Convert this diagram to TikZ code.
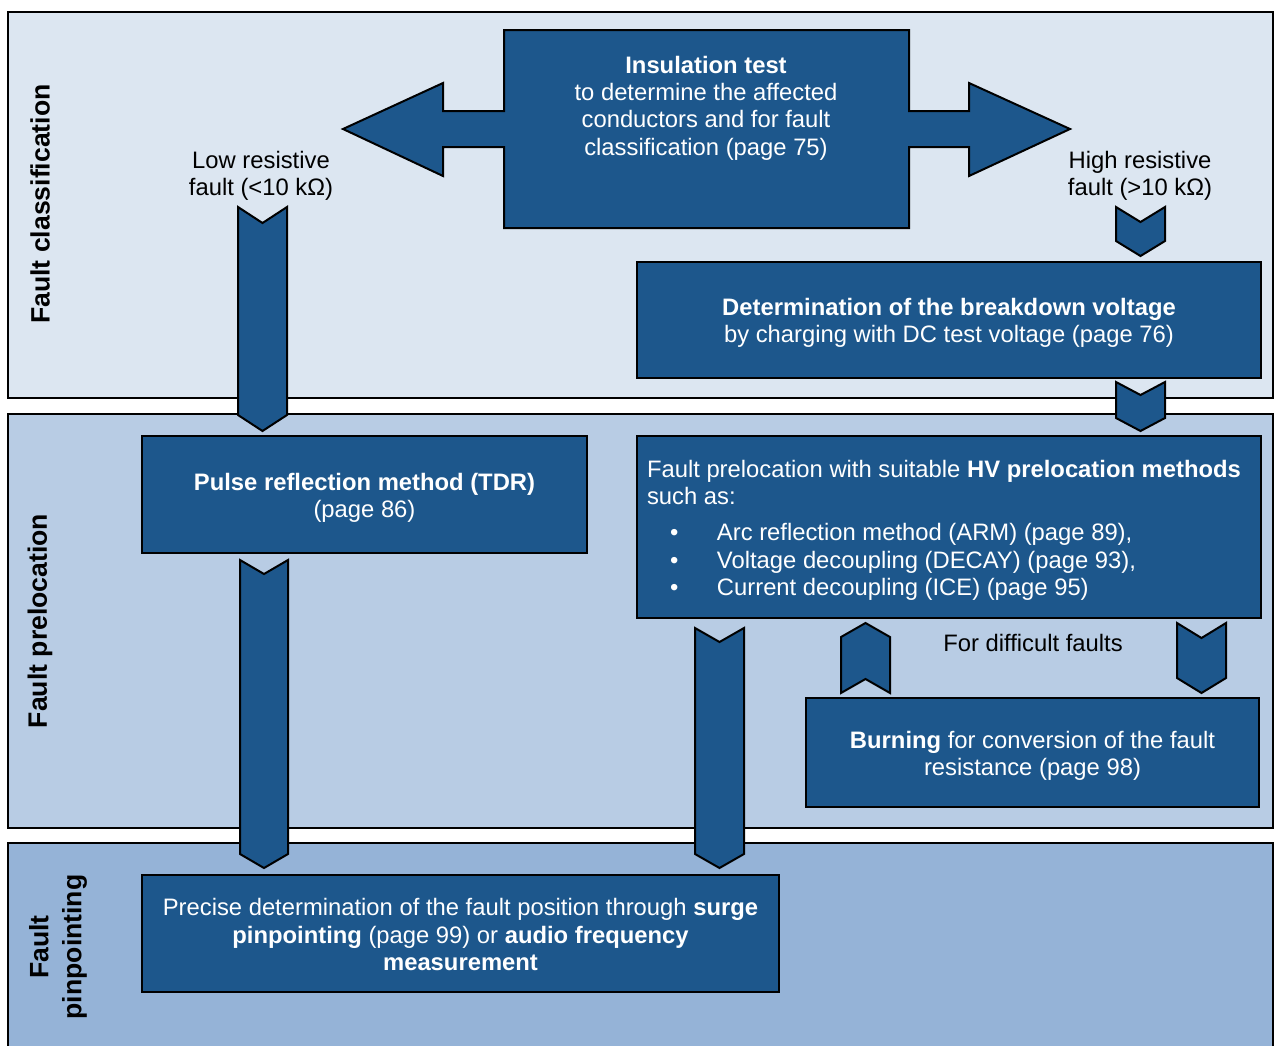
\documentclass[tikz,border=0pt]{standalone}
\usepackage{fontspec}
\setmainfont{Liberation Sans}
\usetikzlibrary{fit}
\definecolor{bandA}{RGB}{220,230,241}
\definecolor{bandB}{RGB}{184,204,228}
\definecolor{bandC}{RGB}{149,179,215}
\definecolor{boxblue}{RGB}{29,87,140}
\newcommand\chevdown[6]{% name, xl, xr, ytop, ybottom, depth
  \draw[chev] ({#2},{#4}) -- ({(#2+#3)/2},{#4+#6}) -- ({#3},{#4}) -- ({#3},{#5}) -- ({(#2+#3)/2},{#5+#6}) -- ({#2},{#5}) -- cycle;
  \coordinate (#1) at ({(#2+#3)/2},{(#4+#5)/2});}
\newcommand\chevup[6]{% name, xl, xr, ytop, ybottom, depth
  \draw[chev] ({#2},{#4}) -- ({(#2+#3)/2},{#4-#6}) -- ({#3},{#4}) -- ({#3},{#5}) -- ({(#2+#3)/2},{#5-#6}) -- ({#2},{#5}) -- cycle;
  \coordinate (#1) at ({(#2+#3)/2},{(#4+#5)/2});}
\begin{document}
\begin{tikzpicture}[x=0.5pt,y=-0.5pt,line width=1pt,line join=miter,
  box/.style={draw=black,fill=boxblue,inner sep=0pt},
  chev/.style={draw=black,fill=boxblue},
  txt/.style={font=\fontsize{11.9}{13.7}\selectfont,align=center,inner sep=0pt},
  wtxt/.style={txt,text=white},
  bandlabel/.style={txt,font=\fontsize{13.3}{16.5}\selectfont\bfseries,rotate=90}]
\useasboundingbox (0,0) rectangle (1274,1045);
\fill[white] (0,0) rectangle (1274,1045);
% bands
\draw[fill=bandA] (8,12) rectangle (1273,398);
\draw[fill=bandB] (8,414) rectangle (1273,828);
\draw[fill=bandC] (8,843) rectangle (1273,1070);
\node[bandlabel] (lab1) at (40,204) {Fault classification};
\node[bandlabel] (lab2) at (40,621) {Fault prelocation};
\node[bandlabel] (lab3) at (58,947) {Fault\\pinpointing};
% insulation box with double block arrow
\draw[chev] (504,30) -- (909,30) -- (909,111) -- (969,111) -- (969,83) -- (1070,129)
  -- (969,176) -- (969,147) -- (909,147) -- (909,228) -- (504,228) -- (504,147)
  -- (443,147) -- (443,176) -- (343,129) -- (443,83) -- (443,111) -- (504,111) -- cycle;
\node[wtxt] (ins) at (706,108) {\textbf{Insulation test}\\to determine the affected\\conductors and for fault\\classification (page 75)};
\node[txt] (low) at (261,176) {Low resistive\\fault (<10 kΩ)};
\node[txt] (high) at (1140,176) {High resistive\\fault (>10 kΩ)};
% boxes
\node[box,fit={(637,262)(1261,378)}] (brk) {};
\node[wtxt] at ([yshift=-1.5pt]brk.center) {\textbf{Determination of the breakdown voltage}\\by charging with DC test voltage (page 76)};
\node[box,fit={(142,436)(587,553)}] (pulse) {};
\node[wtxt] at ([yshift=-1.7pt]pulse.center) {\textbf{Pulse reflection method (TDR)}\\(page 86)};
\node[box,fit={(637,436)(1261,618)}] (hv) {};
\node[wtxt,align=left,anchor=north west] (hvtext) at (646,459) {Fault prelocation with suitable \textbf{HV prelocation methods}\\such as:\\[4.4pt]
\hspace*{11.5pt}\makebox[23.5pt][l]{\textbullet}Arc reflection method (ARM) (page 89),\\
\hspace*{11.5pt}\makebox[23.5pt][l]{\textbullet}Voltage decoupling (DECAY) (page 93),\\
\hspace*{11.5pt}\makebox[23.5pt][l]{\textbullet}Current decoupling (ICE) (page 95)};
\node[box,fit={(806,698)(1259,807)}] (burn) {};
\node[wtxt] at ([yshift=-1.7pt]burn.center) {\textbf{Burning} for conversion of the fault\\resistance (page 98)};
\node[txt] (diff) at (1033,643) {For difficult faults};
\node[box,fit={(142,875)(779,992)}] (pin) {};
\node[wtxt] at ([yshift=-0.5pt]pin.center) {Precise determination of the fault position through \textbf{surge}\\\textbf{pinpointing} (page 99) or \textbf{audio frequency}\\\textbf{measurement}};
% chevron connectors
\chevdown{c1}{238}{287}{207}{415}{16}
\chevdown{c2}{1116}{1165}{207}{241}{15}
\chevdown{c3}{1116}{1165}{382}{418}{13}
\chevdown{c4}{240}{288}{560}{854}{14}
\chevdown{c5}{695}{744}{628}{854}{14}
\chevup{c6}{841}{890}{637}{693}{14}
\chevdown{c7}{1177}{1226}{623}{678}{15}
\end{tikzpicture}
\end{document}
